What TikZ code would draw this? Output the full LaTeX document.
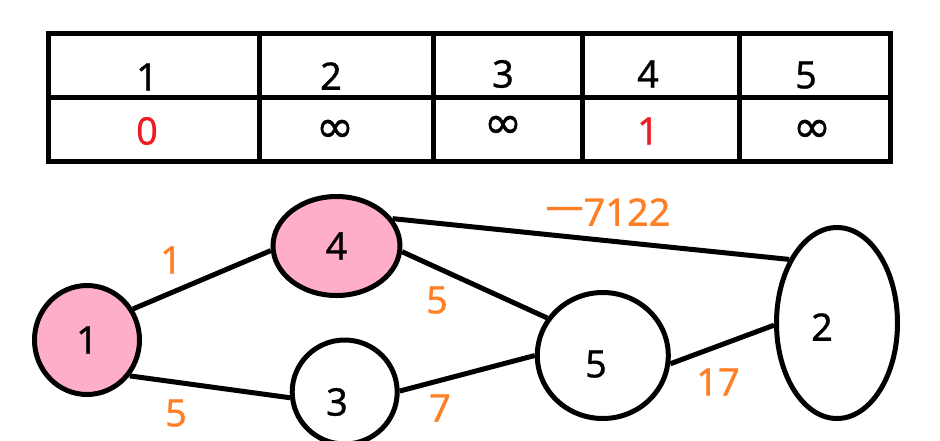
\documentclass[tikz,border=0pt]{standalone}
\usepackage{fontspec}
\setmainfont{Noto Sans}
\newfontfamily\digfont[FakeBold=0.7]{Noto Sans}
\newfontfamily\symfont[FakeBold=0.8]{DejaVu Sans}
\usetikzlibrary{shapes.geometric}
\definecolor{rose}{HTML}{FFAEC9}
\definecolor{wred}{HTML}{ED1C24}
\definecolor{worange}{HTML}{FF7F27}
\tikzset{
  vtx/.style={ellipse, draw=black, line width=5pt, inner sep=0pt, font=\digfont\fontsize{38}{38}\selectfont},
  edge/.style={line width=5pt},
  wt/.style={text=worange, font=\digfont\fontsize{38}{38}\selectfont, inner sep=0pt},
  cell/.style={font=\digfont\fontsize{38}{38}\selectfont, inner sep=0pt},
  inf/.style={font=\symfont\fontsize{46}{46}\selectfont, inner sep=0pt},
  grid/.style={line width=4.7pt}
}
\begin{document}
\begin{tikzpicture}[x=1pt,y=-1pt]
\useasboundingbox (0,0) rectangle (940,440);
% table
\draw[grid] (48.3,33.3) rectangle (890.3,161.8);
\draw[grid] (48.3,97.5) -- (890.3,97.5);
\foreach \xx in {259.7,433.3,582.3,739.7} \draw[grid] (\xx,33.3) -- (\xx,161.8);
\node[cell] (h1) at (147,77) {1};
\node[cell] (h2) at (331,76) {2};
\node[cell] (h3) at (503,74) {3};
\node[cell] (h4) at (648,74) {4};
\node[cell] (h5) at (806,75) {5};
\node[cell, text=wred] (d1) at (147,131) {0};
\node[inf] (d2) at (335,131) {∞};
\node[inf] (d3) at (503,127) {∞};
\node[cell, text=wred] (d4) at (648,131) {1};
\node[inf] (d5) at (812,131) {∞};
% vertices
\node[vtx, fill=rose, minimum width=105pt, minimum height=109pt] (n1) at (87,340) {1};
\node[vtx, fill=rose, minimum width=127pt, minimum height=99pt] (n4) at (336.5,246) {4};
\node[vtx, fill=white, minimum width=105pt, minimum height=104pt] (n3) at (344.7,392) {};
\node[cell] (t3) at (337,402) {3};
\node[vtx, fill=white, minimum width=131pt, minimum height=126pt] (n5) at (602.8,355.5) {};
\node[cell] (t5) at (596,364) {5};
\node[vtx, fill=white, minimum width=121pt, minimum height=191pt] (n2) at (837,323) {};
\node[cell] (t2) at (822,327) {2};
% edges
\draw[edge] (n1.34) -- (n4.184);
\draw[edge] (n1.320) -- (n3.186);
\draw[edge] (n4.26) -- (n2.127);
\draw[edge] (n4.355) -- (n5.146);
\draw[edge] (n3.1) -- (n5.180);
\draw[edge] (n5.353) -- (n2.182);
% weights
\node[wt] (w14) at (171,260) {1};
\node[wt] (w13) at (176,413) {5};
\node[wt] (w45) at (437,300) {5};
\node[wt] (w35) at (440,408) {7};
\node[wt] (w52) at (718,382) {17};
\node[wt] (w42) at (608,212) {\raisebox{7pt}{—}7122};
\end{tikzpicture}
\end{document}
